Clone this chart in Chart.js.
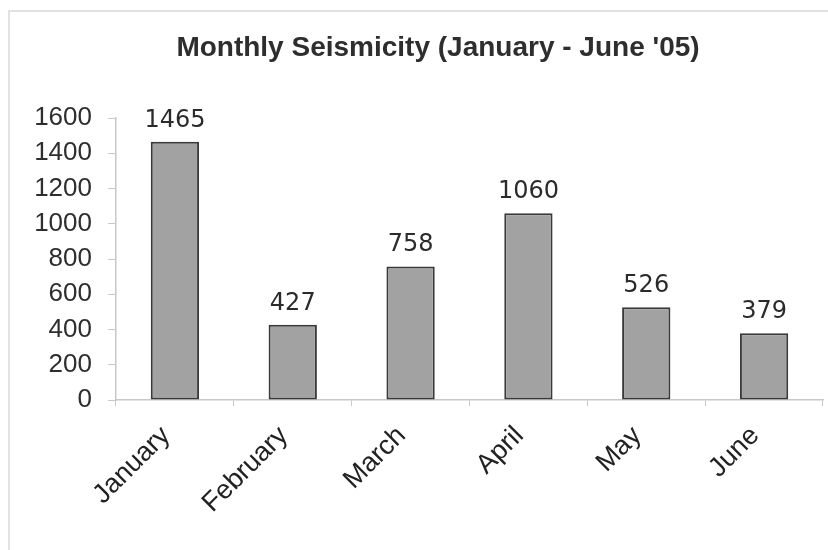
<!DOCTYPE html>
<html>
<head>
<meta charset="utf-8">
<script src="https://cdn.jsdelivr.net/npm/chart.js@4/dist/chart.umd.min.js"></script>
<style>
  html, body { margin: 0; padding: 0; background: #fff; }
  #wrap { position: relative; width: 828px; height: 550px; overflow: hidden; }
  #frame { position: absolute; left: 8px; top: 10px; width: 840px; height: 560px; border: 2px solid #e2e2e2; box-sizing: border-box; }
  canvas { position: absolute; left: 0; top: 0; }
</style>
</head>
<body>
<div id="wrap">
  <div id="frame"></div>
  <canvas id="chart" width="828" height="550"></canvas>
</div>
<script>
const months = ['January', 'February', 'March', 'April', 'May', 'June'];
const events = [1465, 427, 758, 1060, 526, 379];
const chartTitle = "Monthly Seismicity (January - June '05)";

// title and value labels drawn by hand so they sit where the original has them
const extraText = {
  id: 'extraText',
  afterDatasetsDraw(chart) {
    const ctx = chart.ctx;
    const meta = chart.getDatasetMeta(0);
    ctx.save();
    ctx.font = 'bold 28px "Liberation Sans", Arial, sans-serif';
    ctx.fillStyle = '#2e2e2e';
    ctx.textAlign = 'center';
    ctx.textBaseline = 'alphabetic';
    ctx.fillText(chartTitle, 438, 56);

    ctx.font = '24px "DejaVu Sans", Verdana, sans-serif';
    ctx.fillStyle = '#2b2b2b';
    meta.data.forEach((bar, i) => {
      ctx.fillText(String(events[i]), bar.x, bar.y - 15);
    });
    ctx.restore();
  }
};

new Chart(document.getElementById('chart').getContext('2d'), {
  type: 'bar',
  data: {
    labels: months,
    datasets: [{
      data: events,
      backgroundColor: '#a2a2a2',
      borderColor: '#3a3a3a',
      borderWidth: 2,
      borderSkipped: false,
      categoryPercentage: 1,
      barPercentage: 0.41
    }]
  },
  options: {
    responsive: false,
    animation: false,
    layout: { padding: { left: 0, right: 5, top: 118, bottom: 0 } },
    plugins: {
      legend: { display: false },
      tooltip: { enabled: false },
      title: { display: false }
    },
    scales: {
      x: {
        grid: { display: true, drawOnChartArea: false, tickLength: 6, color: '#c8c8c8', offset: true },
        border: { color: '#c8c8c8', width: 1.5 },
        ticks: {
          color: '#222',
          font: { family: '"Liberation Sans", Arial, sans-serif', size: 27 },
          maxRotation: 45,
          minRotation: 45,
          padding: 14,
          labelOffset: -9
        },
        afterFit(scale) { scale.height = 150; }
      },
      y: {
        min: 0,
        max: 1600,
        grid: { display: true, drawOnChartArea: false, tickLength: 8, color: '#c8c8c8' },
        border: { color: '#c8c8c8', width: 1.5 },
        ticks: {
          stepSize: 200,
          color: '#2e2e2e',
          font: { family: '"Liberation Sans", Arial, sans-serif', size: 26 },
          padding: 16,
          callback: (value) => String(value)
        },
        afterFit(scale) { scale.width = 116; }
      }
    }
  },
  plugins: [extraText]
});
</script>
</body>
</html>
